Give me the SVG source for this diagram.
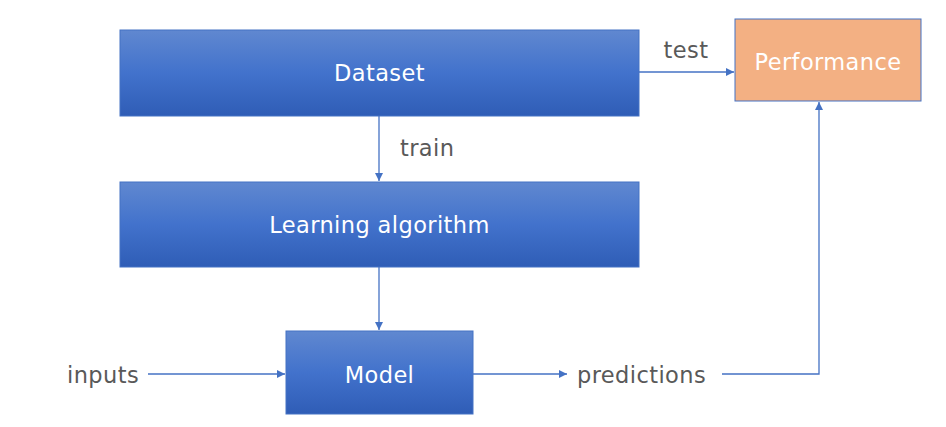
<svg xmlns="http://www.w3.org/2000/svg" width="946" height="427" viewBox="0 0 946 427">
<defs>
<linearGradient id="blue" x1="0" y1="0" x2="0" y2="1">
<stop offset="0" stop-color="#6088D0"/>
<stop offset="0.5" stop-color="#4272CC"/>
<stop offset="1" stop-color="#2F5DB6"/>
</linearGradient>
<marker id="arr" viewBox="0 0 10 10" refX="10" refY="5" markerWidth="8" markerHeight="8" markerUnits="userSpaceOnUse" orient="auto">
<path d="M0,0 L10,5 L0,10 z" fill="#4472C4"/>
</marker>
<style>
.box{fill:url(#blue);stroke:#4472C4;stroke-width:1}
.perf{fill:#F3B083;stroke:#4472C4;stroke-width:1}
.in{fill:#fff;font-family:"DejaVu Sans",sans-serif;font-size:22.5px;letter-spacing:0.4px;text-anchor:middle;dominant-baseline:central}
.lbl{fill:#595959;font-family:"DejaVu Sans",sans-serif;font-size:22.5px;letter-spacing:0.4px;dominant-baseline:central}
.c{fill:none;stroke:#4472C4;stroke-width:1.3}
</style>
</defs>
<g id="connectors">
<path class="c" d="M639,72 H734" marker-end="url(#arr)"/>
<path class="c" d="M379,116 V181" marker-end="url(#arr)"/>
<path class="c" d="M379,267 V330" marker-end="url(#arr)"/>
<path class="c" d="M148,374 H285" marker-end="url(#arr)"/>
<path class="c" d="M473,374 H567" marker-end="url(#arr)"/>
<path class="c" d="M722,374 H819 V102" marker-end="url(#arr)"/>
<text class="lbl" x="686" y="50" text-anchor="middle">test</text>
<text class="lbl" x="400" y="148">train</text>
<text class="lbl" x="67" y="375">inputs</text>
<text class="lbl" x="577" y="375">predictions</text>
</g>
<g id="dataset">
<rect class="box" x="120" y="30" width="519" height="86"/>
<text class="in" x="379.5" y="73">Dataset</text>
</g>
<g id="performance">
<rect class="perf" x="735" y="19" width="186" height="82"/>
<text class="in" x="828" y="62">Performance</text>
</g>
<g id="learning">
<rect class="box" x="120" y="182" width="519" height="85"/>
<text class="in" x="379.5" y="225">Learning algorithm</text>
</g>
<g id="model">
<rect class="box" x="286" y="331" width="187" height="83"/>
<text class="in" x="379.5" y="375">Model</text>
</g>
</svg>
